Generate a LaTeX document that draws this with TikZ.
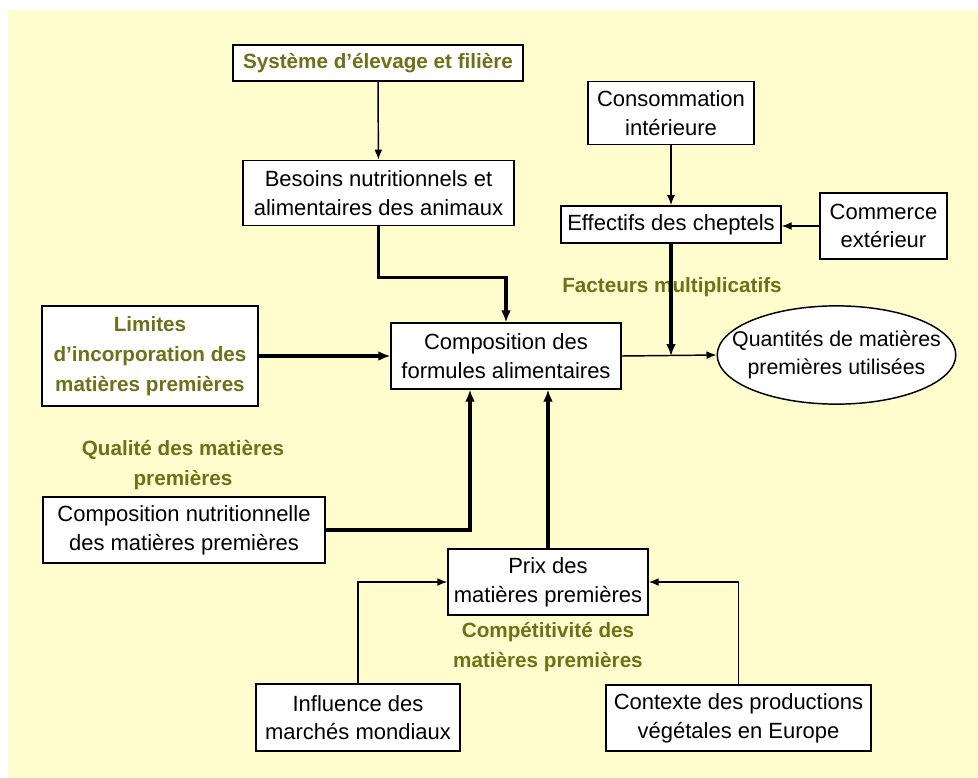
\documentclass[tikz,border=0pt]{standalone}
\usepackage{fontspec}
\setmainfont{Liberation Sans}
\usetikzlibrary{arrows.meta,shapes.geometric}

\definecolor{bgyellow}{RGB}{255,253,205}
\definecolor{olivetxt}{RGB}{112,112,24}

\tikzset{every picture/.style={line width=0.75pt}}
\tikzset{
  box/.style={draw, fill=white, line width=1.1pt, align=center, inner sep=1pt,
    font=\fontsize{16.5}{21.5}\selectfont},
  olivelabel/.style={text=olivetxt, align=center, font=\bfseries\fontsize{15.5}{22.5}\selectfont},
  thinarrow/.style={line width=1.1pt, -{Latex[length=7.5pt,width=6pt]}},
  thickarrow/.style={line width=2.6pt, -{Latex[length=9pt,width=7.5pt]}},
}

\begin{document}
\begin{tikzpicture}[x=0.75pt,y=0.75pt,yscale=-1]
\useasboundingbox (0,0) rectangle (978,778);
%Background
\fill[bgyellow] (8,10) rectangle (978,778);

%Shape: Rectangle
\node[box, olivelabel, minimum width=217.5pt, minimum height=27pt] (systeme) at (378,63) {Système d’élevage et filière};
%Shape: Rectangle
\node[box, minimum width=203pt, minimum height=49pt] (besoins) at (378.5,193) {Besoins nutritionnels et\\alimentaires des animaux};
%Shape: Rectangle
\node[box, minimum width=124.5pt, minimum height=47pt] (conso) at (671,113) {Consommation\\intérieure};
%Shape: Rectangle
\node[box, minimum width=165pt, minimum height=28pt] (effectifs) at (671,224.5) {Effectifs des cheptels};
%Shape: Rectangle
\node[box, minimum width=95pt, minimum height=49.5pt] (commerce) at (883.5,226) {Commerce\\extérieur};
%Shape: Rectangle
\node[box, minimum width=172.5pt, minimum height=49.5pt] (compo) at (506,356) {Composition des\\formules alimentaires};
%Shape: Rectangle
\node[box, olivelabel, minimum width=162pt, minimum height=75pt] (limites) at (150,356) {Limites\\d’incorporation des\\matières premières};
%Shape: Rectangle
\node[box, minimum width=211.5pt, minimum height=49.5pt] (nutri) at (184,530) {Composition nutritionnelle\\des matières premières};
%Shape: Rectangle
\node[box, minimum width=150pt, minimum height=49.5pt] (prix) at (548,582) {Prix des\\matières premières};
%Shape: Rectangle
\node[box, minimum width=153pt, minimum height=50pt] (influence) at (358,717.5) {Influence des\\marchés mondiaux};
%Shape: Rectangle
\node[box, minimum width=199pt, minimum height=49.5pt] (contexte) at (738.5,718) {Contexte des productions\\végétales en Europe};
%Shape: Ellipse
\node[box, ellipse, inner xsep=-15pt, inner ysep=8pt, font=\fontsize{16}{21}\selectfont] (quant) at (836.5,355) {Quantités de matières\\premières utilisées};

%Text
\node[olivelabel] (facteurs) at (672,287) {Facteurs multiplicatifs};
%Text
\node[olivelabel] (qualite) at (183,465) {Qualité des matières\\premières};
%Text
\node[olivelabel] (competitivite) at (548,647) {Compétitivité des\\matières premières};

%Straight Lines
\draw[thinarrow] (systeme) -- (besoins);
%Straight Lines
\draw[thinarrow] (conso) -- (effectifs);
%Straight Lines
\draw[thinarrow] (commerce) -- (effectifs.east |- commerce.west);
%Straight Lines
\draw[thickarrow] (besoins.south) -- ++(0,51) -| (compo.north);
%Straight Lines
\draw[thickarrow] (limites) -- (compo);
%Straight Lines
\draw[thinarrow] (compo.east) -- (quant.west);
\coordinate (junc) at (effectifs.south |- compo.east);
%Straight Lines
\draw[thickarrow] (effectifs.south) -- (junc);
%Straight Lines
\draw[thickarrow] (nutri.east) -| ([xshift=-27pt]compo.south);
%Straight Lines
\draw[thickarrow] (prix.north) -- (compo.south -| prix.north);
%Straight Lines
\draw[thinarrow] (influence.north) |- (prix.west);
%Straight Lines
\draw[thinarrow] (contexte.north) |- (prix.east);

\end{tikzpicture}
\end{document}
